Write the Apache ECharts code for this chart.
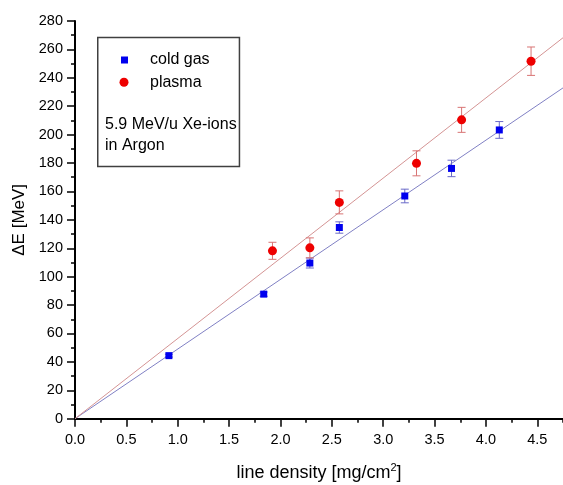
<!DOCTYPE html>
<html>
<head>
<meta charset="utf-8">
<script src="https://cdn.jsdelivr.net/npm/echarts@6/dist/echarts.min.js"></script>
<style>
  html, body { margin: 0; padding: 0; background: #fff; }
  #chart { width: 563px; height: 485px; }
</style>
</head>
<body>
<div id="chart"></div>
<script>
// Energy loss of 5.9 MeV/u Xe ions in argon: cold gas vs. plasma target
const xTicks = [0, 0.5, 1, 1.5, 2, 2.5, 3, 3.5, 4, 4.5];

const coldGasX   = [0.914, 1.837, 2.286, 2.573, 3.21, 3.665, 4.13];
const coldGasY   = [44.4, 87.7, 109.6, 134.6, 156.8, 176.2, 203.3];
const coldGasErr = [1.0, 1.5, 3.5, 4.0, 4.8, 5.8, 5.9];

const plasmaX   = [1.922, 2.286, 2.573, 3.324, 3.763, 4.439];
const plasmaY   = [118.2, 120.3, 152.3, 179.8, 210.4, 251.7];
const plasmaErr = [6.0, 7.0, 8.1, 8.8, 8.8, 10.0];

// linear fits through the origin
const coldGasFit = [[0, 0], [4.75, 232.9]];
const plasmaFit  = [[0, 0], [4.75, 268.2]];

const FONT = 'Liberation Sans, Arial, sans-serif';
const BLUE = '#0000ee', RED = '#ee0000';
const BLUE_BAR = '#6a6ac8', RED_BAR = '#d87474';
const BLUE_FIT = '#8080c4', RED_FIT = '#d49494';

const points = (xs, ys) => xs.map((x, i) => [x, ys[i]]);
const bars = (xs, ys, es) => xs.map((x, i) => [x, ys[i] - es[i], ys[i] + es[i]]);

function errorBar(color) {
  return function (params, api) {
    const x = api.value(0);
    const lo = api.coord([x, api.value(1)]);
    const hi = api.coord([x, api.value(2)]);
    const w = 4;
    const style = { stroke: color, lineWidth: 1 };
    return {
      type: 'group',
      children: [
        { type: 'line', shape: { x1: lo[0], y1: lo[1], x2: hi[0], y2: hi[1] }, style },
        { type: 'line', shape: { x1: lo[0] - w, y1: lo[1], x2: lo[0] + w, y2: lo[1] }, style },
        { type: 'line', shape: { x1: hi[0] - w, y1: hi[1], x2: hi[0] + w, y2: hi[1] }, style }
      ]
    };
  };
}

const chart = echarts.init(document.getElementById('chart'), null, { renderer: 'canvas' });

const legendText = (pad) => ({
  fontFamily: FONT, fontSize: 16, color: '#000', padding: [0, 0, 0, pad]
});

chart.setOption({
  animation: false,
  backgroundColor: '#fff',
  grid: { left: 75, right: 0, top: 21, bottom: 66.3, containLabel: false, outerBoundsMode: 'none' },
  legend: [
    {
      data: [{ name: 'cold gas', icon: 'rect' }],
      orient: 'vertical', left: 116, top: 47,
      itemWidth: 7, itemHeight: 7, selectedMode: false,
      textStyle: legendText(17)
    },
    {
      data: [{ name: 'plasma', icon: 'circle' }],
      orient: 'vertical', left: 114.5, top: 69.2,
      itemWidth: 9, itemHeight: 9, selectedMode: false,
      textStyle: legendText(16.5)
    }
  ],
  graphic: [
    {
      type: 'rect', left: 97, top: 36.7, z: 10,
      shape: { width: 141.7, height: 129 },
      style: { fill: 'transparent', stroke: '#404040', lineWidth: 1.5 }
    },
    {
      type: 'text', left: 105, top: 117, z: 11,
      style: { text: '5.9 MeV/u Xe-ions', font: '16px ' + FONT, fill: '#000' }
    },
    {
      type: 'text', left: 105, top: 138, z: 11,
      style: { text: 'in Argon', font: '16px ' + FONT, fill: '#000' }
    }
  ],
  xAxis: [
    {
      type: 'value', min: 0, max: 4.75, interval: 0.5,
      name: 'line density [mg/cm{sup|2}]',
      nameLocation: 'middle', nameGap: 44,
      nameTextStyle: {
        fontFamily: FONT, fontSize: 18, color: '#000',
        rich: { sup: { fontFamily: FONT, fontSize: 11, verticalAlign: 'top', padding: [0, 0, 10, 0] } }
      },
      axisLine: { show: true, onZero: false, lineStyle: { color: '#000', width: 2 } },
      axisTick: { show: true, inside: false, length: 8, customValues: xTicks,
                  lineStyle: { color: '#000', width: 1.5 } },
      minorTick: { show: false },
      axisLabel: {
        customValues: xTicks, margin: 14,
        fontFamily: FONT, fontSize: 14.5, color: '#000',
        formatter: (v) => v.toFixed(1)
      },
      splitLine: { show: false }
    },
    {
      // minor ticks every 0.25
      type: 'value', min: 0, max: 4.75, interval: 0.25, position: 'bottom',
      axisLine: { show: false },
      axisTick: { show: true, inside: false, length: 4, lineStyle: { color: '#000', width: 1.5 } },
      axisLabel: { show: false },
      splitLine: { show: false }
    }
  ],
  yAxis: {
    type: 'value', min: 0, max: 280, interval: 20,
    name: 'ΔE [MeV]',
    nameLocation: 'middle', nameGap: 41, nameRotate: 90,
    nameTextStyle: { fontFamily: FONT, fontSize: 17, color: '#000' },
    axisLine: { show: true, onZero: false, lineStyle: { color: '#000', width: 2 } },
    axisTick: { show: true, inside: false, length: 8, lineStyle: { color: '#000', width: 1.5 } },
    minorTick: { show: true, splitNumber: 2, length: 4, lineStyle: { color: '#000', width: 1.5 } },
    axisLabel: { margin: 12, fontFamily: FONT, fontSize: 14.5, color: '#000' },
    splitLine: { show: false },
    minorSplitLine: { show: false }
  },
  series: [
    {
      name: 'cold gas fit', type: 'line', data: coldGasFit, symbol: 'none', z: 1,
      lineStyle: { color: BLUE_FIT, width: 1 }, silent: true
    },
    {
      name: 'plasma fit', type: 'line', data: plasmaFit, symbol: 'none', z: 1,
      lineStyle: { color: RED_FIT, width: 1 }, silent: true
    },
    {
      name: 'cold gas error', type: 'custom', z: 2,
      renderItem: errorBar(BLUE_BAR), data: bars(coldGasX, coldGasY, coldGasErr),
      encode: { x: 0, y: [1, 2] }
    },
    {
      name: 'plasma error', type: 'custom', z: 2,
      renderItem: errorBar(RED_BAR), data: bars(plasmaX, plasmaY, plasmaErr),
      encode: { x: 0, y: [1, 2] }
    },
    {
      name: 'cold gas', type: 'scatter', z: 3,
      symbol: 'rect', symbolSize: 7,
      itemStyle: { color: BLUE, opacity: 1 },
      data: points(coldGasX, coldGasY)
    },
    {
      name: 'plasma', type: 'scatter', z: 3,
      symbol: 'circle', symbolSize: 9,
      itemStyle: { color: RED, opacity: 1 },
      data: points(plasmaX, plasmaY)
    }
  ]
});
</script>
</body>
</html>
